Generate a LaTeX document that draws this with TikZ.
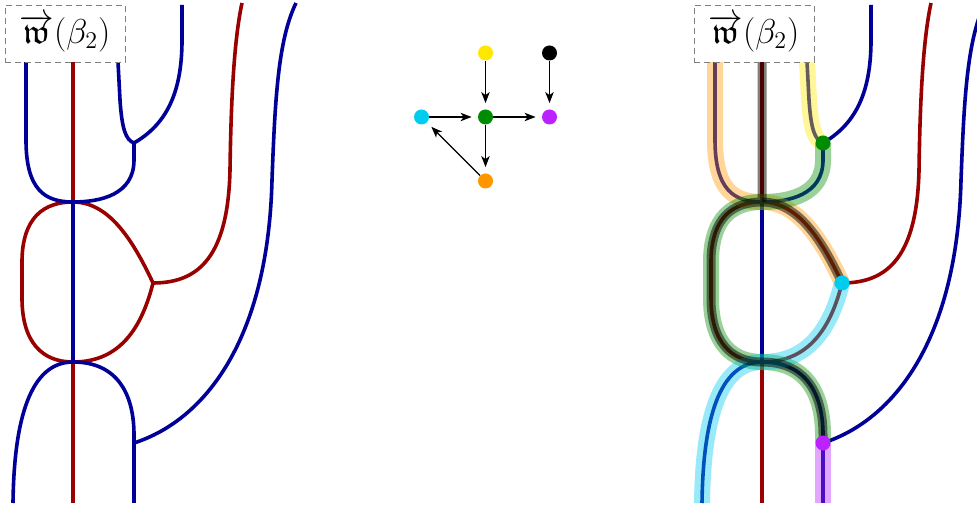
\documentclass[tikz,border=0pt]{standalone}
\usepackage{amssymb}
\usetikzlibrary{arrows.meta}
\definecolor{sblue}{RGB}{0,0,153}
\definecolor{sred}{RGB}{153,0,0}
\definecolor{hyellow}{RGB}{255,232,0}
\definecolor{hcyan}{RGB}{0,204,238}
\definecolor{hgreen}{RGB}{0,140,0}
\definecolor{hpurple}{RGB}{187,34,255}
\definecolor{horange}{RGB}{255,150,0}
\tikzset{
  bstrand/.style={draw=sblue, line width=1.8pt},
  rstrand/.style={draw=sred, line width=1.8pt},
  hl/.style={line width=8pt, draw opacity=0.4, draw=#1},
  hlk/.style={line width=4.5pt, draw opacity=0.5, draw=black},
  vdot/.style={circle, fill=#1, inner sep=0pt, minimum size=7.5pt},
  gnode/.style={circle, fill=#1, inner sep=0pt, minimum size=7.5pt},
  lbl/.style={draw=gray, densely dashed, line width=0.3pt, fill=white,
    minimum width=60pt, minimum height=28.5pt, inner sep=0pt},
  garrow/.style={-{Stealth[length=5.5pt,width=4.2pt,inset=1.5pt]}, line width=0.65pt,
    shorten >=3pt},
}
% path segments (pixel coordinates)
\def\sA{(tA) -- (26,140) .. controls (26,190) and (45,202) .. (X1)}
\def\sB{(tC) -- (120,100) .. controls (122,130) and (126,140) .. (V1)}
\def\sC{(V1) .. controls (165,125) and (182,95) .. (182,40) -- (tD)}
\def\sD{(V1) -- (134,160) .. controls (134,195) and (100,202) .. (X1)}
\def\sE{(X1) -- (X2)}
\def\sF{(X2) .. controls (30,362) and (14,420) .. (bA)}
\def\sG{(X2) .. controls (118,362) and (134,395) .. (134,435) -- (V3)}
\def\sH{(V3) -- (bC)}
\def\sI{(V3) .. controls (205,420) and (268,340) .. (272,180) .. controls (275,100) and (278,40) .. (tF)}
\def\sJ{(tB) -- (X1)}
\def\sK{(X2) -- (bB)}
\def\sL{(X1) .. controls (35,202) and (22,228) .. (22,262) -- (22,298) .. controls (22,342) and (42,362) .. (X2)}
\def\sM{(X1) .. controls (108,202) and (132,238) .. (V2)}
\def\sN{(V2) .. controls (140,335) and (115,362) .. (X2)}
\def\sO{(V2) .. controls (200,283) and (228,255) .. (230,170) .. controls (231,100) and (234,40) .. (tE)}
\newcommand\strandcoords{%
  \coordinate (tA) at (26,62);
  \coordinate (tB) at (73,62);
  \coordinate (tC) at (118,62);
  \coordinate (tD) at (182,5);
  \coordinate (tE) at (242,3);
  \coordinate (tF) at (296,3);
  \coordinate (X1) at (73,202);
  \coordinate (X2) at (73,362);
  \coordinate (V1) at (134,143);
  \coordinate (V2) at (153,283);
  \coordinate (V3) at (134,443);
  \coordinate (bA) at (13,503);
  \coordinate (bB) at (73,503);
  \coordinate (bC) at (134,503);
}
\newcommand\drawstrands{%
  \draw[rstrand] \sJ;
  \draw[rstrand] \sK;
  \draw[rstrand] \sL;
  \draw[rstrand] \sM;
  \draw[rstrand] \sN;
  \draw[rstrand] \sO;
  \draw[bstrand] \sA;
  \draw[bstrand] \sB;
  \draw[bstrand] \sC;
  \draw[bstrand] \sD;
  \draw[bstrand] \sE;
  \draw[bstrand] \sF;
  \draw[bstrand] \sG;
  \draw[bstrand] \sH;
  \draw[bstrand] \sI;
}
\newcommand\labelbox{%
  \node[lbl] (lab) at (65,33.5) {\LARGE$\overrightarrow{\mathfrak{w}}(\beta_2)$};
}
\begin{document}
\begin{tikzpicture}[x=0.5pt,y=-0.5pt]
  \useasboundingbox (0,0) rectangle (977,506);
  \clip (0,0) rectangle (977,506);
  \fill[white] (0,0) rectangle (977,506);

  % left diagram
  \begin{scope}[name prefix=L-]
    \strandcoords
    \drawstrands
    \labelbox
  \end{scope}

  % middle graph
  \node[gnode=hyellow] (ny) at (485.5,53) {};
  \node[gnode=black]   (nk) at (549.5,53) {};
  \node[gnode=hcyan]   (nc) at (421.5,117) {};
  \node[gnode=hgreen]  (ng) at (485.5,117) {};
  \node[gnode=hpurple] (np) at (549.5,117) {};
  \node[gnode=horange] (no) at (485.5,181) {};
  \draw[garrow] (ny) -- (ng);
  \draw[garrow] (nk) -- (np);
  \draw[garrow] (nc) -- (ng);
  \draw[garrow] (ng) -- (np);
  \draw[garrow] (ng) -- (no);
  \draw[garrow] (no) -- (nc);

  % right diagram
  \begin{scope}[xshift=344.5pt, name prefix=R-]
    \strandcoords
    \drawstrands
    \draw[hl=hyellow] \sB;
    \draw[hl=horange] \sA \sM;
    \draw[hl=hgreen] \sD \sL \sG;
    \draw[hl=hcyan] \sN \sF;
    \draw[hl=hpurple] \sH;
    \draw[hlk] \sJ \sL \sG;
    \draw[hlk] \sM;
    \node[vdot=hgreen] (dg) at (V1) {};
    \node[vdot=hcyan] (dc) at (V2) {};
    \node[vdot=hpurple] (dp) at (V3) {};
    \labelbox
  \end{scope}
\end{tikzpicture}
\end{document}
